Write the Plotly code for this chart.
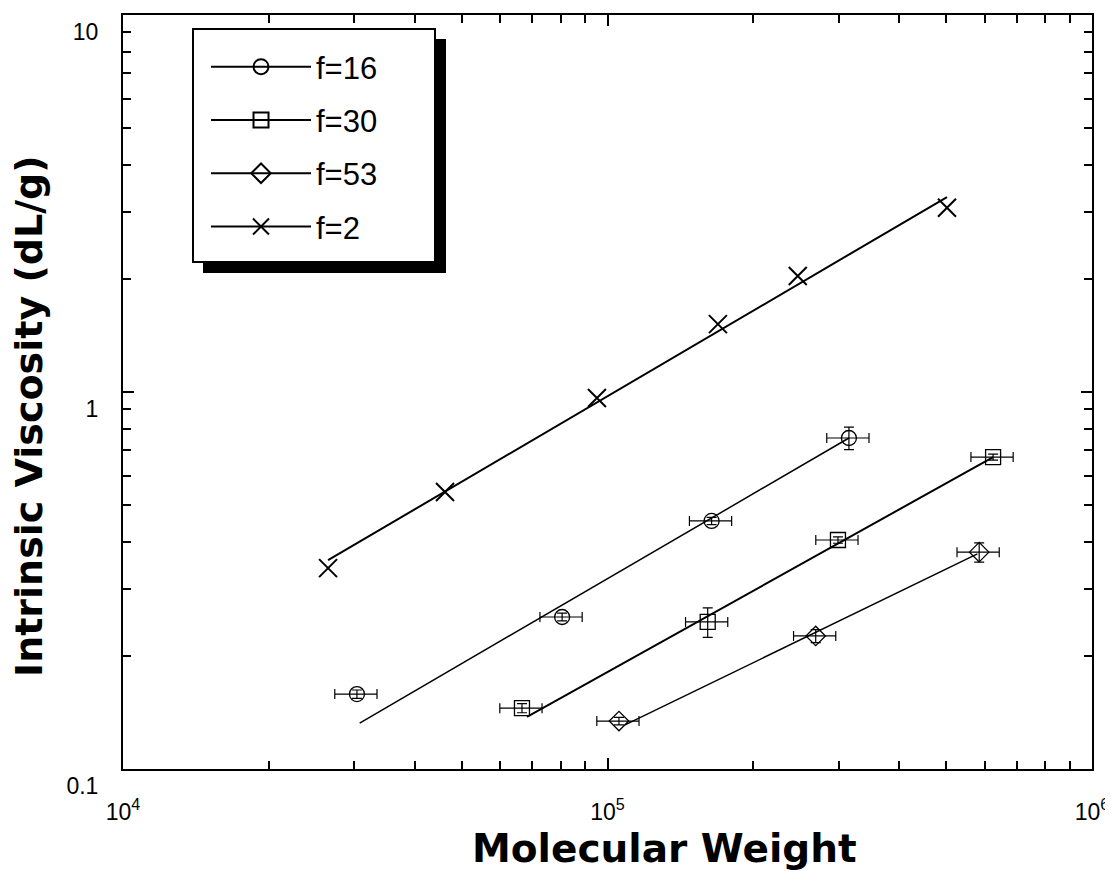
import plotly.graph_objects as go

FONT = "Liberation Sans, Arial, Helvetica, sans-serif"
TITLE_FONT = "DejaVu Sans, Liberation Sans, Arial, sans-serif"

# ---- data ----
f16_mw = [30400, 80600, 164000, 315000]
f16_iv = [0.158, 0.253, 0.455, 0.755]
f16_iv_err = [0.004, 0.006, 0.010, 0.052]

f30_mw = [66600, 161000, 299000, 625000]
f30_iv = [0.145, 0.2455, 0.405, 0.672]
f30_iv_err = [0.004, 0.022, 0.008, 0.012]

f53_mw = [105600, 269000, 585000]
f53_iv = [0.134, 0.2254, 0.376]
f53_iv_err = [0.003, 0.009, 0.022]

f2_mw = [26500, 46200, 95100, 169000, 247000, 502000]
f2_iv = [0.341, 0.543, 0.964, 1.514, 2.03, 3.08]

mw_rel_err = 0.10  # horizontal error bars (fraction of MW)

# fitted power-law lines (end points)
fit16_mw = [30800, 315000]
fit16_iv = [0.1324, 0.755]
fit30_mw = [68200, 625000]
fit30_iv = [0.1374, 0.672]
fit53_mw = [108700, 580000]
fit53_iv = [0.1309, 0.372]
fit2_mw = [26500, 502000]
fit2_iv = [0.358, 3.29]

labels = ["f=16", "f=30", "f=53", "f=2"]
symbols = ["circle-open", "square-open", "diamond-open", "x-thin-open"]

x_tickvals = [1e4, 1e5, 1e6]
x_ticktext = ["10<sup>4</sup>", "10<sup>5</sup>", "10<sup>6</sup>"]
y_tickvals = [0.1, 1, 10]
y_ticktext = ["0.1", "1", "10"]

fig = go.Figure()

# fit lines
for fx, fy, w in [(fit16_mw, fit16_iv, 1.5), (fit30_mw, fit30_iv, 2.0),
                  (fit53_mw, fit53_iv, 1.5), (fit2_mw, fit2_iv, 2.0)]:
    fig.add_trace(go.Scatter(x=fx, y=fy, mode="lines", line=dict(color="black", width=w),
                             showlegend=False, hoverinfo="skip"))

# data with error bars
for mw, iv, err, sym in [(f16_mw, f16_iv, f16_iv_err, symbols[0]),
                         (f30_mw, f30_iv, f30_iv_err, symbols[1]),
                         (f53_mw, f53_iv, f53_iv_err, symbols[2])]:
    fig.add_trace(go.Scatter(
        x=mw, y=iv, mode="markers",
        marker=dict(symbol=sym, size=15, color="black", line=dict(width=1.3, color="black")),
        error_x=dict(type="percent", value=mw_rel_err * 100, color="black", thickness=1.2, width=5),
        error_y=dict(type="data", array=err, color="black", thickness=1.2, width=5),
        showlegend=False))

fig.add_trace(go.Scatter(
    x=f2_mw, y=f2_iv, mode="markers",
    marker=dict(symbol="x-thin-open", size=18, color="black", line=dict(width=2, color="black")),
    showlegend=False))

# legend entries
for lab, sym in zip(labels, symbols):
    fig.add_trace(go.Scatter(
        x=[None], y=[None], mode="lines+markers", name=lab, legendgroup=lab,
        line=dict(color="black", width=2),
        marker=dict(symbol=sym, size=15 if sym != "x-thin-open" else 17, color="black",
                    line=dict(width=2, color="black"))))

axis_common = dict(
    type="log", showline=True, linecolor="black", linewidth=2, mirror="ticks",
    ticks="inside", ticklen=11, tickwidth=1.5, tickcolor="black",
    minor=dict(ticks="inside", ticklen=8, tickwidth=1.5, tickcolor="black", dtick="D1", showgrid=False),
    showgrid=False, zeroline=False, automargin=False, ticklabeloverflow="allow",
    tickfont=dict(family=FONT, size=23, color="black"),
)

# page has an 8px body margin: plot area sits at page x 123..1092, y 15..769
OFF = 8
W0, H0 = 969.0, 754.0


def px_x(p):
    return (p - 123) / W0


def px_y(p):
    return (769 - p) / H0


fig.update_layout(
    width=1113 - OFF, height=871 - OFF,
    margin=dict(l=123 - OFF, r=21, t=15 - OFF, b=102),
    paper_bgcolor="white", plot_bgcolor="white",
    xaxis=dict(range=[4, 6], tickvals=x_tickvals, ticktext=x_ticktext,
               ticklabelstandoff=21, **axis_common),
    yaxis=dict(range=[-1, 1], tickvals=y_tickvals, ticktext=y_ticktext,
               ticklabelposition="outside bottom",
               ticklabelstandoff=18, **axis_common),
    legend=dict(x=px_x(206), y=px_y(40), xanchor="left", yanchor="top",
                bgcolor="rgba(0,0,0,0)", borderwidth=0,
                font=dict(family=FONT, size=31, color="black"),
                itemwidth=100, tracegroupgap=10, itemclick=False),
    shapes=[
        dict(type="rect", xref="paper", yref="paper",
             x0=px_x(203), x1=px_x(446), y0=px_y(273), y1=px_y(39),
             fillcolor="black", line=dict(width=0), layer="above"),
        dict(type="rect", xref="paper", yref="paper",
             x0=px_x(193), x1=px_x(435), y0=px_y(262), y1=px_y(29),
             fillcolor="white", line=dict(width=2, color="black"), layer="above"),
    ],
    annotations=[
        dict(text="<b>Molecular Weight</b>", xref="paper", yref="paper",
             x=px_x(664), y=px_y(849), xanchor="center", yanchor="middle", showarrow=False,
             font=dict(family=TITLE_FONT, size=39, color="black")),
        dict(text="<b>Intrinsic Viscosity (dL/g)</b>", xref="paper", yref="paper",
             x=px_x(29), y=px_y(416), xanchor="center", yanchor="middle", showarrow=False,
             textangle=-90, font=dict(family=TITLE_FONT, size=38, color="black")),
    ],
)

fig.write_html("out.html")
